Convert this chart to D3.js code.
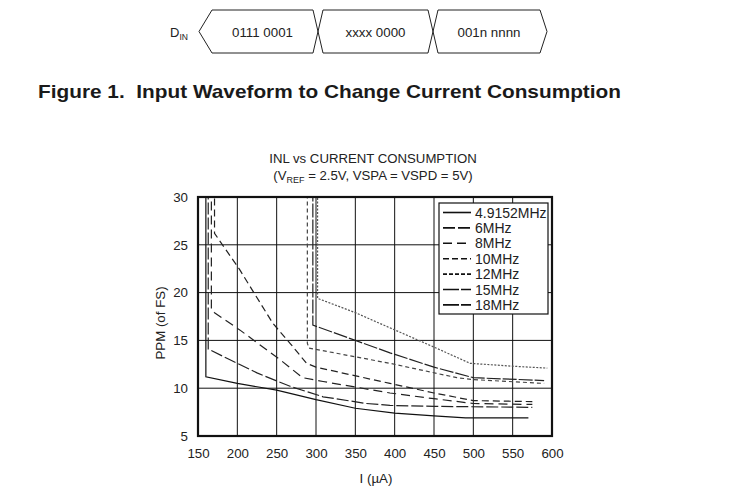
<!DOCTYPE html>
<html><head><meta charset="utf-8">
<script src="https://cdn.jsdelivr.net/npm/d3@7"></script>
<style>body{margin:0;background:#fff;} svg{display:block;font-family:"Liberation Sans",Arial,sans-serif;}</style>
</head><body>
<svg id="c" width="744" height="502"></svg>
<script>
// ---- data ----
const seriesNames = ["4.9152MHz","6MHz","8MHz","10MHz","12MHz","15MHz","18MHz"];
const i4915 = [160,160,200,250,300,350,400,450,490,570];
const p4915 = [31,11.2,10.5,9.8,8.8,7.9,7.4,7.1,6.9,6.9];
const i6 = [163,163,190,225,267,309,364,394,450,575];
const p6 = [31,14.1,13.0,11.6,10.2,9.1,8.4,8.2,8.1,8.0];
const i8 = [167,167,171,203,254,283,309,394,450,500,575];
const p8 = [31,18.2,17.9,16.1,13.0,11.1,10.7,9.5,8.9,8.4,8.3];
const i10 = [171,171,203,245,267,288,300,394,450,500,575];
const p10 = [31,26.2,22.4,16.8,14.7,12.6,12.2,10.5,9.5,8.7,8.6];
const i12 = [289,289,291,394,479,500,590];
const p12 = [31,14.7,14.2,12.6,11.1,10.9,10.5];
const i15 = [296,296,350,394,450,500,590];
const p15 = [31,16.6,15.0,13.7,12.2,11.1,10.8];
const i18 = [302,302,350,400,450,496,550,594];
const p18 = [31,19.4,17.9,16.1,14.3,12.6,12.3,12.1];
const xTicks = [150,200,250,300,350,400,450,500,550,600];
const yTicks = [5,10,15,20,25,30];
const words = ["0111 0001","xxxx 0000","001n nnnn"];

const currents = [i4915,i6,i8,i10,i12,i15,i18];
const ppms = [p4915,p6,p8,p10,p12,p15,p18];
const plotDash = ["none","12,3","9,5","7,4","4,3","14,2","2,1.5"];
const legDash = ["none","12,3","9,5","6,3","4,2","16,2","16,2"];
const colors = ["#111","#222","#222","#222","#444","#222","#555"];

const svg = d3.select("#c");
const F = "'Liberation Sans',Arial,sans-serif";

// ---- waveform diagram ----
const wf = svg.append("g");
const wTop=10, wBot=53, wMid=31.5;
const segs = [[212,313],[323,428],[438,540]];
wf.append("text").attr("x",170).attr("y",wMid+5).attr("font-size",13).attr("fill","#222")
  .text("D").append("tspan").attr("font-size",8.5).attr("dy",3).text("IN");
const wpath = d3.path();
wpath.moveTo(segs[0][0],wTop); wpath.lineTo(199,wMid); wpath.lineTo(segs[0][0],wBot);
segs.forEach((s,k)=>{
  wpath.moveTo(s[0],wTop); wpath.lineTo(s[1],wTop);
  wpath.moveTo(s[0],wBot); wpath.lineTo(s[1],wBot);
  if(k<segs.length-1){
    const n=segs[k+1][0];
    wpath.moveTo(s[1],wTop); wpath.lineTo(n,wBot);
    wpath.moveTo(s[1],wBot); wpath.lineTo(n,wTop);
  }
});
wpath.moveTo(540,wTop); wpath.lineTo(547,wMid); wpath.lineTo(540,wBot);
wf.append("path").attr("d",wpath.toString()).attr("fill","none").attr("stroke","#222").attr("stroke-width",1);
words.forEach((w,k)=>{
  wf.append("text").attr("x",(segs[k][0]+segs[k][1])/2).attr("y",wMid+5).attr("text-anchor","middle")
    .attr("font-size",13.3).attr("fill","#222").text(w);
});

svg.append("text").attr("x",38).attr("y",98).attr("font-size",19).attr("font-weight","bold")
  .attr("fill","#1a1a1a").attr("textLength",583).attr("lengthAdjust","spacingAndGlyphs")
  .text("Figure 1.\u00A0 Input Waveform to Change Current Consumption");

// ---- chart ----
const L=198, T=197, W=354, H=239;
const x = d3.scaleLinear().domain([150,600]).range([L,L+W]);
const y = d3.scaleLinear().domain([5,30]).range([T+H,T]);

svg.append("text").attr("x",373).attr("y",163).attr("text-anchor","middle").attr("font-size",13.2).attr("fill","#222")
  .text("INL vs CURRENT CONSUMPTION");
const t2 = svg.append("text").attr("x",373).attr("y",180).attr("text-anchor","middle").attr("font-size",13.2).attr("fill","#222");
t2.append("tspan").text("(V");
t2.append("tspan").attr("font-size",9).attr("dy",3).text("REF");
t2.append("tspan").attr("dy",-3).text(" = 2.5V, VSPA = VSPD = 5V)");

// grid
const g = svg.append("g");
g.selectAll(".vx").data(xTicks).join("line").attr("x1",d=>x(d)).attr("x2",d=>x(d)).attr("y1",T).attr("y2",T+H)
  .attr("stroke","#111").attr("stroke-width",1);
g.selectAll(".hy").data(yTicks).join("line").attr("x1",L).attr("x2",L+W).attr("y1",d=>y(d)).attr("y2",d=>y(d))
  .attr("stroke","#111").attr("stroke-width",1);

const xa = svg.append("g").attr("transform",`translate(0,${T+H})`)
  .call(d3.axisBottom(x).tickValues(xTicks).tickSize(0).tickPadding(13));
xa.select(".domain").remove();
xa.selectAll("text").attr("font-size",13.3).attr("font-family",F).attr("fill","#222");
const ya = svg.append("g").attr("transform",`translate(${L},0)`)
  .call(d3.axisLeft(y).tickValues(yTicks).tickSize(0).tickPadding(10));
ya.select(".domain").remove();
ya.selectAll("text").attr("font-size",13.3).attr("font-family",F).attr("fill","#222");

svg.append("text").attr("x",376).attr("y",483).attr("text-anchor","middle").attr("font-size",13.3).attr("fill","#222").text("I (µA)");
svg.append("text").attr("transform","translate(165,323) rotate(-90)").attr("text-anchor","middle")
  .attr("font-size",13.3).attr("fill","#222").text("PPM (of FS)");

svg.append("clipPath").attr("id","pc").append("rect").attr("x",L).attr("y",T).attr("width",W).attr("height",H);
const line = d3.line().x(d=>x(d[0])).y(d=>y(d[1]));
const lg = svg.append("g").attr("clip-path","url(#pc)");
seriesNames.forEach((n,k)=>{
  const data = currents[k].map((c,j)=>[c,ppms[k][j]]);
  lg.append("path").attr("d",line(data)).attr("fill","none").attr("stroke",colors[k])
    .attr("stroke-width",1.2).attr("stroke-dasharray",plotDash[k]);
});

svg.append("rect").attr("x",L).attr("y",T).attr("width",W).attr("height",H).attr("fill","none")
  .attr("stroke","#111").attr("stroke-width",2.2);

const lgd = svg.append("g");
lgd.append("rect").attr("x",439).attr("y",203).attr("width",109).attr("height",111).attr("fill","#fff")
  .attr("stroke","#111").attr("stroke-width",1.2);
seriesNames.forEach((n,k)=>{
  const yy = 212.5 + k*15.4;
  lgd.append("line").attr("x1",443).attr("x2",471).attr("y1",yy).attr("y2",yy).attr("stroke","#111")
    .attr("stroke-width",1.6).attr("stroke-dasharray",legDash[k]);
  lgd.append("text").attr("x",475).attr("y",yy+5).attr("font-size",14).attr("fill","#222").text(n);
});
</script>
</body></html>
